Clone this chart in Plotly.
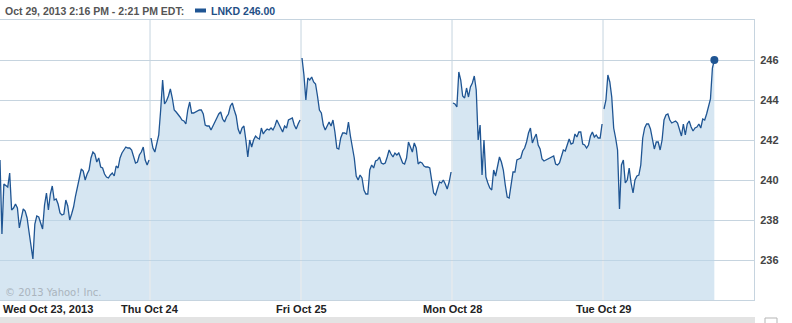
import plotly.graph_objects as go

# ---- data (5-minute LNKD prices, one list per trading day) ----
day_labels = ["Wed Oct 23, 2013", "Thu Oct 24", "Fri Oct 25", "Mon Oct 28", "Tue Oct 29"]

wed_oct23 = [241.00, 237.30, 239.80, 239.70, 239.65, 240.35, 238.50, 238.60, 238.80, 238.60,
             237.60, 238.10, 238.55, 238.45, 238.10, 237.40, 236.60, 236.05, 237.80, 238.20,
             238.15, 237.90, 237.55, 238.75, 239.35, 238.50, 239.30, 239.70, 239.00, 239.05,
             238.80, 238.35, 238.25, 238.30, 239.00, 238.70, 238.00, 238.30, 238.65, 239.20,
             239.70, 240.20, 240.55, 240.45, 240.00, 240.30, 240.50, 241.10, 241.40, 241.30,
             240.90, 241.10, 240.65, 240.60, 240.30, 240.15, 240.10, 240.25, 240.35, 240.20,
             240.70, 240.60, 241.10, 241.35, 241.50, 241.65, 241.60, 241.60, 241.50, 241.10,
             240.85, 240.90, 241.25, 241.40, 241.65, 241.00, 240.75, 241.00]

thu_oct24 = [242.10, 241.60, 241.40, 241.90, 242.25, 243.50, 245.00, 243.80, 243.95, 244.20,
             244.55, 244.10, 243.50, 243.40, 243.30, 243.15, 243.00, 242.95, 242.80, 243.50,
             243.90, 243.35, 243.35, 243.40, 243.45, 243.50, 243.50, 243.30, 242.75, 242.70,
             242.70, 242.50, 242.70, 242.95, 243.10, 243.30, 243.40, 243.05, 242.90, 243.15,
             243.30, 243.70, 243.85, 243.50, 243.20, 242.55, 242.30, 242.60, 242.70, 242.00,
             241.15, 242.00, 241.65, 242.00, 242.20, 242.10, 242.05, 242.60, 242.30, 242.45,
             242.55, 242.50, 242.60, 242.50, 242.70, 243.00, 242.80, 242.60, 242.40, 242.70,
             242.60, 243.00, 243.05, 243.10, 242.75, 242.55, 242.80, 243.00]

fri_oct25 = [246.10, 245.25, 244.00, 245.10, 245.00, 245.15, 244.90, 244.80, 244.20, 243.50,
             243.35, 242.75, 242.50, 242.70, 242.90, 242.70, 243.00, 242.40, 241.60, 241.55,
             242.10, 242.35, 242.35, 242.30, 242.90, 242.20, 241.70, 241.10, 240.20, 240.00,
             240.25, 240.10, 239.50, 239.30, 239.30, 240.50, 240.75, 240.60, 240.95, 241.00,
             241.15, 240.85, 240.80, 240.85, 241.15, 241.50, 241.30, 241.15, 241.35, 241.25,
             241.35, 241.10, 240.85, 240.80, 241.10, 241.90, 241.65, 241.40, 241.85, 241.60,
             240.80, 240.90, 240.85, 240.70, 240.65, 240.65, 240.60, 240.00, 239.35, 239.25,
             239.65, 239.90, 239.85, 240.00, 239.80, 239.55, 239.90, 240.40]

mon_oct28 = [243.85, 243.80, 243.65, 245.40, 245.00, 244.20, 244.10, 244.60, 244.15, 244.65,
             244.85, 245.20, 244.50, 242.00, 242.75, 240.25, 242.00, 240.15, 239.85, 239.60,
             239.50, 240.50, 240.20, 240.70, 241.15, 240.90, 240.50, 239.75, 239.15, 239.10,
             239.70, 240.40, 240.40, 241.00, 241.05, 241.10, 241.45, 241.60, 241.90, 242.35,
             242.60, 241.85, 242.10, 242.30, 241.75, 241.55, 241.05, 240.95, 241.00, 241.05,
             241.10, 241.15, 241.20, 240.80, 240.75, 240.85, 241.20, 241.50, 241.45, 241.70,
             242.05, 241.80, 241.85, 242.30, 242.15, 242.40, 242.40, 241.80, 241.75, 241.60,
             241.75, 242.20, 242.40, 242.15, 242.25, 242.10, 242.10, 242.80]

tue_oct29 = [243.55, 244.00, 245.25, 244.90, 244.15, 242.60, 242.10, 241.50, 238.55, 240.75,
             241.00, 239.85, 240.00, 240.60, 239.85, 239.35, 240.00, 240.20, 240.25, 240.75,
             242.10, 242.60, 242.80, 242.80, 242.55, 242.00, 241.55, 241.90, 241.90, 241.50,
             242.00, 243.00, 243.25, 243.30, 243.00, 242.85, 242.90, 242.95, 242.85, 242.50,
             242.20, 242.80, 242.25, 242.80, 242.95, 242.65, 242.45, 242.60, 242.65, 242.80,
             242.60, 243.05, 243.00, 243.30, 243.70, 244.05, 245.60, 246.00]

days = [wed_oct23, thu_oct24, fri_oct25, mon_oct28, tue_oct29]
points_per_day = 78
y_ticks = [236, 238, 240, 242, 244, 246]
header_text = "Oct 29, 2013 2:16 PM - 2:21 PM EDT:"
legend_text = "LNKD 246.00"
copyright_text = "© 2013 Yahoo! Inc."

# ---- layout constants (pixels) ----
W, H = 792, 323
ML, MR, MT, MB = 0, 38, 20, 23
PW, PH = W - ML - MR, H - MT - MB
x_max = PW / (151 / points_per_day)

def px_x(p):
    return (p - ML) / PW

def px_y(p):
    return (H - MB - p) / PH

LINE = "#1f5593"
FILL = "rgba(187,213,233,0.6)"
GRID = "#c6d4df"
FONT = "Liberation Sans"

fig = go.Figure()
for d, vals in enumerate(days):
    xs = [d * points_per_day + i for i in range(len(vals))]
    fig.add_trace(go.Scatter(x=xs, y=vals, mode="lines", fill="tozeroy",
                             fillcolor=FILL, line=dict(color=LINE, width=1.3),
                             showlegend=False, hoverinfo="skip"))

last_x = (len(days) - 1) * points_per_day + len(days[-1]) - 1
fig.add_trace(go.Scatter(x=[last_x], y=[days[-1][-1]], mode="markers",
                         marker=dict(color=LINE, size=8), showlegend=False, hoverinfo="skip"))

shapes = []
for d in range(1, len(days)):
    xv = d * points_per_day - 0.5
    shapes.append(dict(type="line", xref="x", yref="paper", x0=xv, x1=xv, y0=0, y1=1,
                       line=dict(color=GRID, width=1), layer="below"))
# header legend marker
shapes.append(dict(type="rect", xref="paper", yref="paper",
                   x0=px_x(195), x1=px_x(206), y0=px_y(12.5), y1=px_y(8.5),
                   fillcolor=LINE, line=dict(width=0)))
# bottom gray band
shapes.append(dict(type="rect", xref="paper", yref="paper",
                   x0=px_x(0), x1=px_x(755), y0=px_y(323), y1=px_y(317),
                   fillcolor="#e3e3e3", line=dict(width=0)))
shapes.append(dict(type="rect", xref="paper", yref="paper",
                   x0=px_x(765), x1=px_x(777), y0=px_y(326), y1=px_y(318),
                   fillcolor="white", line=dict(color="#b5b5b5", width=1)))

annotations = [
    dict(text="<b>" + header_text + "</b>", xref="paper", yref="paper",
         x=px_x(3), y=px_y(11), xanchor="left", yanchor="middle", showarrow=False,
         font=dict(family=FONT, size=10.5, color="#555555")),
    dict(text="<b>" + legend_text + "</b>", xref="paper", yref="paper",
         x=px_x(209), y=px_y(11), xanchor="left", yanchor="middle", showarrow=False,
         font=dict(family=FONT, size=10.5, color="#1f4f86")),
    dict(text=copyright_text, xref="paper", yref="paper",
         x=px_x(3), y=px_y(292), xanchor="left", yanchor="middle", showarrow=False,
         font=dict(family="DejaVu Sans", size=10, color="#aab4bd")),
]
for d, lab in enumerate(day_labels):
    if d == 0:
        annotations.append(dict(text="<b>" + lab + "</b>", xref="paper", yref="paper",
                                x=px_x(1), y=px_y(309), xanchor="left", yanchor="middle",
                                showarrow=False, font=dict(family=FONT, size=11, color="#222222")))
    else:
        annotations.append(dict(text="<b>" + lab + "</b>", xref="x", yref="paper",
                                x=d * points_per_day - 0.5, y=px_y(309), xanchor="center",
                                yanchor="middle", showarrow=False,
                                font=dict(family=FONT, size=11, color="#222222")))

fig.update_layout(
    width=W, height=H, margin=dict(l=ML, r=MR, t=MT, b=MB),
    paper_bgcolor="white", plot_bgcolor="white",
    xaxis=dict(range=[0, x_max], showgrid=False, zeroline=False, showticklabels=False,
               showline=True, mirror=True, linecolor=GRID, linewidth=1, fixedrange=True),
    yaxis=dict(range=[234, 248], side="right", tickvals=y_ticks, showgrid=True,
               gridcolor=GRID, gridwidth=1, zeroline=False, showline=True, mirror=True,
               linecolor=GRID, linewidth=1, ticks="", ticklabelstandoff=3,
               tickfont=dict(family=FONT, size=11, color="#444444", weight="bold")),
    shapes=shapes, annotations=annotations, showlegend=False,
)

fig.write_html("out.html")
